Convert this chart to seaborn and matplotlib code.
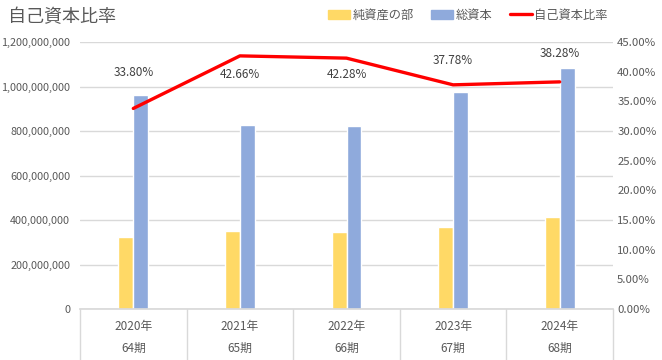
import pandas as pd
import seaborn as sns
import matplotlib.pyplot as plt
from matplotlib.ticker import FuncFormatter, MultipleLocator
from matplotlib.lines import Line2D

# chart data
years = ["2020年", "2021年", "2022年", "2023年", "2024年"]
periods = ["64期", "65期", "66期", "67期", "68期"]
net_assets = [325000000, 352000000, 348000000, 368000000, 415000000]
total_capital = [962000000, 825000000, 823000000, 975000000, 1085000000]
equity_ratio = [33.80, 42.66, 42.28, 37.78, 38.28]
# where the ratio labels sit (on the % axis)
label_pos = [39.8, 39.6, 39.6, 41.8, 43.0]

# long form table for the bars
df = pd.DataFrame({
    "year": years * 2,
    "value": net_assets + total_capital,
    "series": ["純資産の部"] * 5 + ["総資本"] * 5,
})

sns.set_theme(style="white")
plt.rcParams["font.family"] = ["Noto Sans CJK JP", "DejaVu Sans"]

text_col = "#595959"
grid_col = "#d9d9d9"

fig = plt.figure(figsize=(6.62, 3.6), dpi=100)
ax = fig.add_axes([80 / 662, 51 / 360, 533 / 662, 267 / 360])

# bars
sns.barplot(
    data=df, x="year", y="value", hue="series",
    palette=["#FFD966", "#8FAADC"], width=0.28, gap=0,
    saturation=1, legend=False, ax=ax,
)
ax.set_xlim(-0.5, 4.5)
ax.set_ylim(0, 1200000000)
ax.yaxis.set_major_locator(MultipleLocator(200000000))
ax.yaxis.set_major_formatter(FuncFormatter(lambda v, p: f"{v:,.0f}"))
ax.grid(axis="y", color=grid_col, linewidth=1)
ax.set_axisbelow(True)
ax.set_xlabel("")
ax.set_ylabel("")
ax.set_xticks([])
ax.tick_params(axis="y", length=0, pad=7, labelsize=7.8, labelcolor=text_col)
for s in ["left", "right", "top"]:
    ax.spines[s].set_visible(False)
ax.spines["bottom"].set_color(grid_col)

# ratio line on the right axis
ax2 = ax.twinx()
sns.lineplot(x=list(range(5)), y=equity_ratio, color="#FF0000", linewidth=2.4, ax=ax2)
ax2.set_ylim(0, 45)
ax2.yaxis.set_major_locator(MultipleLocator(5))
ax2.yaxis.set_major_formatter(FuncFormatter(lambda v, p: f"{v:.2f}%"))
ax2.tick_params(axis="y", length=0, pad=3, labelsize=8.2, labelcolor=text_col)
ax2.grid(False)
for s in ["left", "right", "top", "bottom"]:
    ax2.spines[s].set_visible(False)

# ratio labels
for i, (r, yp) in enumerate(zip(equity_ratio, label_pos)):
    ax2.text(i, yp, f"{r:.2f}%", ha="center", va="center", fontsize=8.5, color="#404040")

# two level category labels with separators
trans = ax.get_xaxis_transform()
for i, (y, p) in enumerate(zip(years, periods)):
    ax.text(i, -0.065, y, transform=trans, ha="center", va="center", fontsize=8.5, color=text_col)
    ax.text(i, -0.148, p, transform=trans, ha="center", va="center", fontsize=8.5, color=text_col)
for b in [-0.5, 0.5, 1.5, 2.5, 3.5, 4.5]:
    ax.add_line(Line2D([b, b], [0, -0.19], transform=trans, color=grid_col, linewidth=1, clip_on=False))

# title
fig.text(8 / 662, 1 - 17 / 360, "自己資本比率", fontsize=13, color=text_col, va="center", ha="left")

# legend
handles = [
    plt.Rectangle((0, 0), 1, 1, color="#FFD966"),
    plt.Rectangle((0, 0), 1, 1, color="#8FAADC"),
    Line2D([], [], color="#FF0000", linewidth=2.4),
]
fig.legend(
    handles, ["純資産の部", "総資本", "自己資本比率"], ncol=3, frameon=False,
    loc="center", bbox_to_anchor=(468 / 662, 1 - 15 / 360), fontsize=8.8,
    labelcolor=text_col, handlelength=1.8, handleheight=0.7, handletextpad=0.2,
    columnspacing=1.4,
)

fig.savefig("out.png", dpi=100)
